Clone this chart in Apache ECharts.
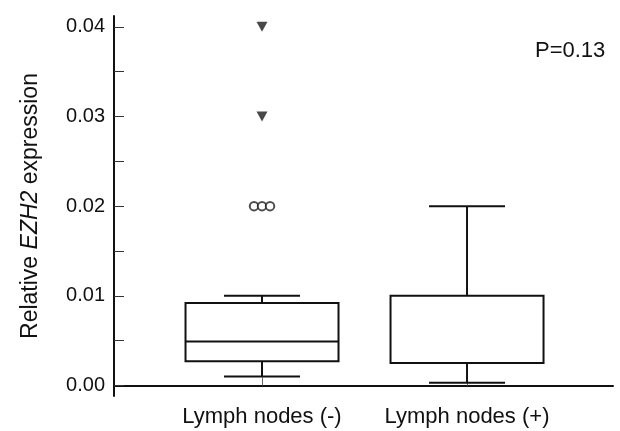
<!DOCTYPE html>
<html>
<head>
<meta charset="utf-8">
<script src="https://cdn.jsdelivr.net/npm/echarts@6.0.0/dist/echarts.min.js"></script>
<style>
  html, body { margin: 0; padding: 0; background: #fff; }
  #chart { width: 620px; height: 431px; }
</style>
</head>
<body>
<div id="chart"></div>
<script>
// Groups compared
const categories = ['Lymph nodes (-)', 'Lymph nodes (+)'];

// Box summaries per group: whisker low, Q1, median, Q3, whisker high
const whiskerLow = [0.0010, 0.0003];
const quartile1 = [0.0027, 0.0025];
const medians = [0.0049, 0.0025];
const quartile3 = [0.0092, 0.0100];
const whiskerHigh = [0.0100, 0.0200];

// Outliers (open circles) and extremes (filled triangles), by group index
const outlierGroup = [0, 0, 0];
const outlierValue = [0.020, 0.020, 0.020];
const extremeGroup = [0, 0];
const extremeValue = [0.030, 0.040];

// Axis ticks and labels
const yLabelValues = [0, 0.01, 0.02, 0.03, 0.04];
const yTickValues = [0, 0.005, 0.01, 0.015, 0.02, 0.025, 0.03, 0.035, 0.04];
const pValueText = 'P=0.13';

const FONT = '"Liberation Sans", Arial, Helvetica, sans-serif';
const INK = '#111';

const boxData = categories.map((c, i) => [i + 1, whiskerLow[i], quartile1[i], medians[i], quartile3[i], whiskerHigh[i]]);

// Spread points that share a value side by side around the group centre
function spread(groups, values, gap) {
  const seen = {};
  const counts = {};
  groups.forEach((g, i) => { const k = g + '|' + values[i]; counts[k] = (counts[k] || 0) + 1; });
  return groups.map((g, i) => {
    const k = g + '|' + values[i];
    const idx = seen[k] = (seen[k] === undefined ? 0 : seen[k] + 1);
    const off = (idx - (counts[k] - 1) / 2) * gap;
    return { value: [g + 1, values[i]], symbolOffset: [off, 0] };
  });
}

function renderBox(params, api) {
  const x = api.value(0);
  const lo = api.coord([x, api.value(1)]);
  const q1 = api.coord([x, api.value(2)]);
  const md = api.coord([x, api.value(3)]);
  const q3 = api.coord([x, api.value(4)]);
  const hi = api.coord([x, api.value(5)]);
  const boxW = 153;
  const capW = 76;
  const cx = lo[0];
  const line = { stroke: INK, lineWidth: 2, fill: null };
  return {
    type: 'group',
    children: [
      { type: 'line', shape: { x1: cx, y1: q3[1], x2: cx, y2: hi[1] }, style: line },
      { type: 'line', shape: { x1: cx, y1: q1[1], x2: cx, y2: lo[1] }, style: line },
      { type: 'line', shape: { x1: cx - capW / 2, y1: hi[1], x2: cx + capW / 2, y2: hi[1] }, style: line },
      { type: 'line', shape: { x1: cx - capW / 2, y1: lo[1], x2: cx + capW / 2, y2: lo[1] }, style: line },
      { type: 'rect', shape: { x: cx - boxW / 2, y: q3[1], width: boxW, height: q1[1] - q3[1] },
        style: { fill: '#fff', stroke: INK, lineWidth: 2 } },
      { type: 'line', shape: { x1: cx - boxW / 2, y1: md[1], x2: cx + boxW / 2, y2: md[1] }, style: line }
    ]
  };
}

const chart = echarts.init(document.getElementById('chart'), null, { renderer: 'canvas' });
chart.setOption({
  animation: false,
  backgroundColor: '#fff',
  textStyle: { fontFamily: FONT },
  grid: { left: 114, right: 7, top: 16, bottom: 35, containLabel: false },
  xAxis: {
    type: 'value',
    min: 0.278,
    max: 2.712,
    splitLine: { show: false },
    axisLine: { show: true, lineStyle: { color: INK, width: 2 } },
    axisTick: { show: true, inside: true, length: 8, customValues: [1, 2], lineStyle: { color: '#666', width: 1 } },
    axisLabel: {
      customValues: [1, 2],
      formatter: v => categories[Math.round(v) - 1] || '',
      color: INK, fontSize: 22, fontFamily: FONT, margin: 10
    }
  },
  yAxis: {
    type: 'value',
    min: -0.00117,
    max: 0.0412,
    splitLine: { show: false },
    axisLine: { show: true, lineStyle: { color: INK, width: 2 } },
    axisTick: { show: true, inside: true, length: 10, customValues: yTickValues, lineStyle: { color: '#333', width: 1 } },
    axisLabel: {
      customValues: yLabelValues,
      formatter: v => v.toFixed(2),
      color: INK, fontSize: 20, fontFamily: FONT, margin: 9
    },
    name: '{r|Relative }{i|EZH2}{r| expression}',
    nameLocation: 'middle',
    nameRotate: 90,
    nameGap: 72,
    nameTextStyle: {
      rich: {
        r: { fontSize: 23, color: INK, fontFamily: FONT },
        i: { fontSize: 23, color: INK, fontFamily: FONT, fontStyle: 'italic' }
      }
    }
  },
  graphic: [{
    type: 'text',
    left: 535,
    top: 40,
    style: { text: pValueText, fontSize: 22, fill: INK, font: '22px ' + FONT }
  }],
  series: [
    {
      type: 'custom',
      renderItem: renderBox,
      data: boxData,
      encode: { x: 0, y: [1, 2, 3, 4, 5] },
      z: 2
    },
    {
      type: 'scatter',
      data: spread(outlierGroup, outlierValue, 8),
      symbol: 'emptyCircle',
      symbolSize: 8.5,
      itemStyle: { color: '#222', borderColor: '#222', borderWidth: 1.3 },
      z: 3
    },
    {
      type: 'scatter',
      data: spread(extremeGroup, extremeValue, 8),
      symbol: 'triangle',
      symbolRotate: 180,
      symbolSize: [11, 10],
      itemStyle: { color: '#1a1a1a' },
      z: 3
    }
  ]
});
</script>
</body>
</html>
